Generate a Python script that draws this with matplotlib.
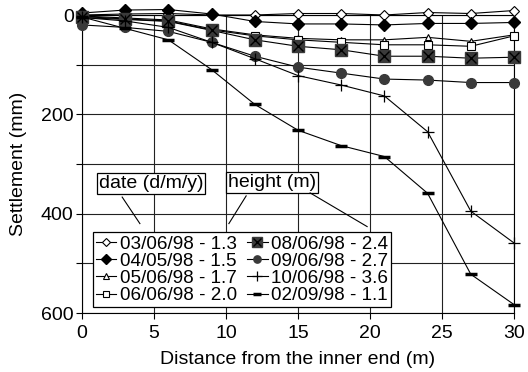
import matplotlib
matplotlib.use("Agg")
import matplotlib.pyplot as plt

plt.rcParams['font.family'] = ['Liberation Sans', 'DejaVu Sans']

distance = [0, 3, 6, 9, 12, 15, 18, 21, 24, 27, 30]

s_030698 = [0, -2, -3, 0, 0, -3, -3, 0, -5, -3, -9]
s_040598 = [-4, -10, -11, -2, 13, 18, 18, 20, 17, 17, 15]
s_050698 = [2, 6, 10, 28, 40, 47, 50, 50, 45, 53, 40]
s_060698 = [3, 8, 12, 30, 42, 50, 55, 60, 60, 63, 42]
s_080698 = [5, 9, 13, 31, 50, 63, 70, 83, 83, 87, 85]
s_090698 = [20, 25, 33, 55, 83, 105, 117, 129, 131, 136, 136]
s_100698 = [5, 12, 25, 55, 88, 122, 141, 163, 235, 395, 459]
s_020998 = [4, 27, 50, 110, 180, 232, 263, 285, 359, 522, 583]

labels = ["03/06/98 - 1.3", "04/05/98 - 1.5", "05/06/98 - 1.7", "06/06/98 - 2.0",
          "08/06/98 - 2.4", "09/06/98 - 2.7", "10/06/98 - 3.6", "02/09/98 - 1.1"]

fig = plt.figure(figsize=(5.28, 3.72), dpi=100)
ax = fig.add_axes([82 / 528, 1 - 313 / 372, 432 / 528, 298 / 372])

lw = 0.8
kw = dict(color='black', lw=lw, clip_on=False, zorder=3)
h1, = ax.plot(distance, s_030698, marker='D', ms=5, mfc='white', mec='black', mew=0.8, **kw)
h2, = ax.plot(distance, s_040598, marker='D', ms=6.5, mfc='black', mec='black', **kw)
h3, = ax.plot(distance, s_050698, marker='^', ms=5, mfc='white', mec='black', mew=0.8, **kw)
h4, = ax.plot(distance, s_060698, marker='s', ms=6, mfc='white', mec='black', mew=0.8, **kw)
h5a, = ax.plot(distance, s_080698, marker='s', ms=9, mfc='#3a3a3a', mec='#3a3a3a', **kw)
h5b, = ax.plot(distance, s_080698, ls='none', marker='x', ms=7, mec='black', mew=1.0,
               clip_on=False, zorder=4)
h6, = ax.plot(distance, s_090698, marker='o', ms=7, mfc='#3a3a3a', mec='#3a3a3a', **kw)
h7, = ax.plot(distance, s_100698, marker='+', ms=9, mec='black', mew=0.9, **kw)
h8, = ax.plot(distance, s_020998, marker='_', ms=8, mec='black', mew=2.5, **kw)

ax.set_xlim(0, 30)
ax.set_ylim(600, 0)
ax.set_xticks(range(0, 31, 5))
ax.set_yticks([0, 200, 400, 600])
ax.set_yticks([100, 300, 500], minor=True)
ax.tick_params(which='both', direction='out', length=4, width=0.8, labelsize=14, pad=2)
ax.tick_params(axis='x', pad=5)
ax.grid(True, which='both', color='#222222', lw=0.8)
ax.set_axisbelow(True)
for sp in ax.spines.values():
    sp.set_linewidth(0.8)

ax.set_xlabel("Distance from the inner end (m)", fontsize=14, labelpad=6)
ax.set_ylabel("Settlement (mm)", fontsize=14, labelpad=10)

leg = ax.legend([h1, h2, h3, h4, (h5a, h5b), h6, h7, h8], labels, ncol=2,
                loc='lower left', bbox_to_anchor=(0.025, 0.02), fontsize=13.6,
                frameon=True, fancybox=False, edgecolor='black', framealpha=1,
                labelspacing=0.0, handlelength=1.1, handletextpad=0.2,
                columnspacing=0.5, borderpad=0.15, borderaxespad=0, markerscale=0.75)
leg.get_frame().set_linewidth(0.9)
leg.set_zorder(5)

box = dict(boxstyle='square,pad=0.1', fc='white', ec='black', lw=0.9)
ax.text(0.160, 0.436, "date (d/m/y)", transform=ax.transAxes, ha='center', va='center',
        fontsize=14, bbox=box, zorder=6)
ax.text(0.440, 0.439, "height (m)", transform=ax.transAxes, ha='center', va='center',
        fontsize=14, bbox=box, zorder=6)
for (x0, y0), (x1, y1) in [((0.093, 0.389), (0.134, 0.300)),
                           ((0.380, 0.393), (0.340, 0.300)),
                           ((0.528, 0.403), (0.660, 0.290))]:
    ax.plot([x0, x1], [y0, y1], transform=ax.transAxes, color='black', lw=0.8,
            zorder=7, clip_on=False)

fig.savefig("out.png", dpi=100)
